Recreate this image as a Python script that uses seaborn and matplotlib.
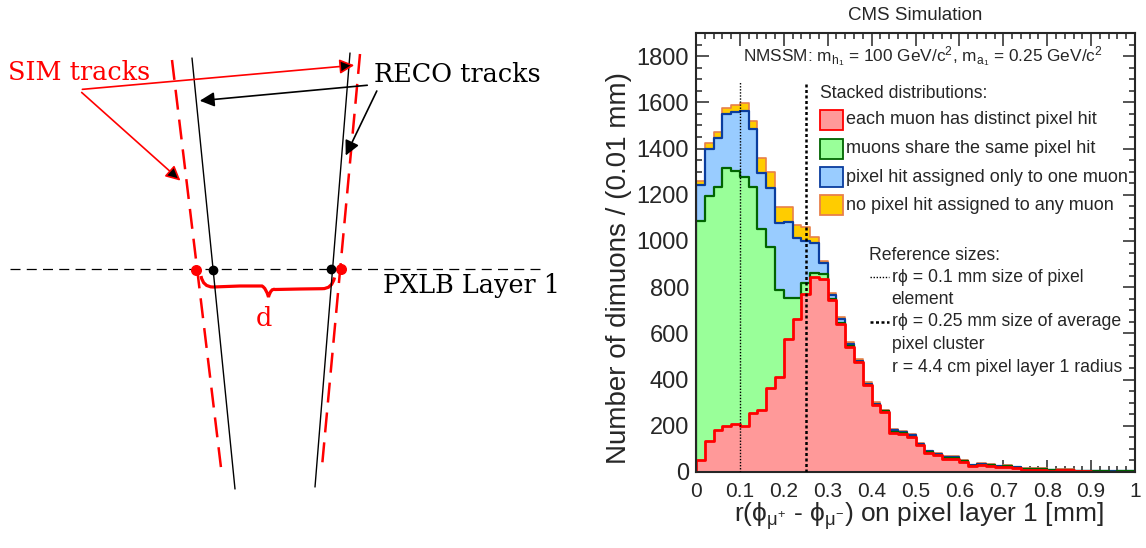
"""
Track-pair diagram + stacked dimuon separation histogram (CMS Simulation).
"""

import numpy as np
import pandas as pd
import matplotlib
matplotlib.use("Agg")
import matplotlib.pyplot as plt
import seaborn as sns
from matplotlib.patches import Rectangle, PathPatch
from matplotlib.path import Path
from matplotlib.ticker import MultipleLocator, FuncFormatter


# ----------------------------------------------------
# Data: counts per 0.02 mm bin, 0 -> 1 mm (50 bins)
# ----------------------------------------------------
bin_lo, bin_hi, bin_width = 0.0, 1.0, 0.02

distinct_hit = [52, 134, 183, 199, 208, 201, 257, 268, 362, 411,
                575, 661, 770, 845, 835, 744, 640, 540, 475, 375,
                289, 261, 170, 165, 150, 117, 84, 72, 56, 56,
                42, 26, 30, 28, 20, 20, 17, 10, 10, 10,
                6, 7, 7, 4, 4, 2, 2, 2, 2, 2]
shared_hit = [1034, 1060, 1052, 1115, 1094, 1074, 975, 782, 610, 377,
              176, 90, 49, 17, 23, 6, 6, 5, 3, 3,
              3, 1, 4, 3, 3, 2, 2, 3, 4, 4,
              4, 2, 2, 2, 2, 4, 2, 2, 2, 2,
              1, 1, 1, 1, 1, 1, 1, 0, 1, 1]
one_muon_hit = [154, 202, 209, 235, 254, 287, 252, 242, 256, 288,
                329, 260, 182, 128, 45, 16, 16, 8, 4, 5,
                4, 2, 6, 6, 5, 2, 3, 4, 4, 4,
                3, 2, 3, 2, 2, 3, 1, 2, 2, 3,
                0, 1, 1, 0, 0, 1, 0, 1, 1, 2]
no_hit = [20, 26, 26, 25, 31, 36, 33, 65, 70, 69,
          65, 58, 60, 25, 12, 9, 10, 8, 7, 5,
          6, 3, 5, 5, 5, 3, 3, 3, 4, 4,
          3, 2, 2, 1, 2, 2, 2, 2, 2, 2,
          1, 2, 2, 1, 1, 0, 1, 0, 0, 0]

category_labels = ["each muon has distinct pixel hit",
                   "muons share the same pixel hit",
                   "pixel hit assigned only to one muon",
                   "no pixel hit assigned to any muon"]
fill_colors = ["#ff9999", "#99ff99", "#99ccff", "#ffcc00"]
edge_colors = ["#ff0000", "#006400", "#0a3d9e", "#e8804a"]
edge_widths = [2.0, 1.6, 1.6, 1.2]

ref_sizes = [0.1, 0.25]
ref_top = 1690
ref_labels = ["r\u03d5 = 0.1 mm size of pixel", "element",
              "r\u03d5 = 0.25 mm size of average", "pixel cluster",
              "r = 4.4 cm pixel layer 1 radius"]

x_ticks = [0.0, 0.1, 0.2, 0.3, 0.4, 0.5, 0.6, 0.7, 0.8, 0.9, 1.0]
y_ticks = [0, 200, 400, 600, 800, 1000, 1200, 1400, 1600, 1800]

W, H = 1146, 548
AX_L, AX_R, AX_T, AX_B = 696, 1135, 33, 472


def px_x(x):
    return (x - AX_L) / (AX_R - AX_L)


def px_y(y):
    return (AX_B - y) / (AX_B - AX_T)


# ----------------------------------------------------
# Left: schematic of SIM / RECO tracks
# ----------------------------------------------------
def draw_diagram(fig):
    ax = fig.add_axes([0, 0, 573 / W, 1])
    ax.set_xlim(0, 573)
    ax.set_ylim(H, 0)
    ax.axis("off")

    serif = "DejaVu Serif"
    # reco tracks (black, solid)
    ax.plot([192, 235], [58, 489], color="black", lw=1.0)
    ax.plot([350, 315], [53, 487], color="black", lw=1.0)
    # sim tracks (red, dashed)
    ax.plot([172, 222], [60, 476], color="red", lw=1.8, ls=(0, (8, 4)))
    ax.plot([360, 321.5], [54, 472], color="red", lw=1.8, ls=(0, (8, 4)))
    # pixel layer
    ax.plot([10, 541], [269, 269], color="black", lw=0.9, ls=(0, (8, 5)))
    ax.scatter([195.5, 341], [269.5, 269], s=48, color="red", zorder=5)
    ax.scatter([213, 330.5], [269.5, 269], s=36, color="black", zorder=5)

    # brace for d
    verts = [(201, 276), (203, 287), (213, 287),
             (240, 286), (262, 286), (266, 288), (268.5, 297),
             (271, 288), (275, 289.5), (300, 289), (322, 288.7),
             (332, 289), (334.5, 277.5)]
    codes = [Path.MOVETO, Path.CURVE3, Path.CURVE3,
             Path.LINETO, Path.LINETO, Path.CURVE3, Path.CURVE3,
             Path.CURVE3, Path.CURVE3, Path.LINETO, Path.LINETO,
             Path.CURVE3, Path.CURVE3]
    ax.add_patch(PathPatch(Path(verts, codes), fill=False, ec="red", lw=2.3))

    arrow_red = dict(arrowstyle="-|>", ec="red", fc="black", lw=1.2, mutation_scale=22)
    arrow_blk = dict(arrowstyle="-|>", color="black", lw=1.2, mutation_scale=22)
    ax.annotate("", xy=(357, 65), xytext=(79.6, 89.6), arrowprops=arrow_red)
    ax.annotate("", xy=(182.5, 182.5), xytext=(79.6, 90.6), arrowprops=arrow_red)
    ax.annotate("", xy=(197, 101), xytext=(370, 85), arrowprops=arrow_blk)
    ax.annotate("", xy=(344.5, 158), xytext=(378, 88.5), arrowprops=arrow_blk)

    fs = 18.4
    ax.text(8, 72, "SIM tracks", color="red", family=serif, fontsize=fs, va="center")
    ax.text(374, 74, "RECO tracks", color="black", family=serif, fontsize=fs, va="center")
    ax.text(383, 286, "PXLB Layer 1", color="black", family=serif, fontsize=fs, va="center")
    ax.text(264, 318, "d", color="red", family=serif, fontsize=fs, ha="center", va="center")


# ----------------------------------------------------
# Right: stacked histogram
# ----------------------------------------------------
def draw_histogram(fig):
    ax = fig.add_axes([AX_L / W, (H - AX_B) / H,
                       (AX_R - AX_L) / W, (AX_B - AX_T) / H])

    n_bins = len(distinct_hit)
    centers = bin_lo + bin_width * (np.arange(n_bins) + 0.5)
    df = pd.DataFrame({"x": centers,
                       "distinct": distinct_hit, "shared": shared_hit,
                       "one": one_muon_hit, "none": no_hit})
    layers = ["distinct", "shared", "one", "none"]
    stack = df[layers].cumsum(axis=1)
    for col in layers:
        df["top_" + col] = stack[col]

    # draw from the top of the stack down so lower layers cover upper fills
    for i in reversed(range(4)):
        sns.histplot(data=df, x="x", weights="top_" + layers[i],
                     binwidth=bin_width, binrange=(bin_lo, bin_hi),
                     element="step", fill=True, alpha=1,
                     color=fill_colors[i], edgecolor=edge_colors[i],
                     linewidth=edge_widths[i], ax=ax)

    ax.vlines(ref_sizes[0], 0, ref_top, color="black", lw=1.0, ls=(0, (1, 1.2)), zorder=6)
    ax.vlines(ref_sizes[1], 0, ref_top, color="black", lw=1.8, ls=(0, (1.2, 1.0)), zorder=6)

    ax.set_xlim(bin_lo, bin_hi)
    ax.set_ylim(0, 1900)
    ax.set_xticks(x_ticks)
    ax.set_yticks(y_ticks)
    ax.xaxis.set_minor_locator(MultipleLocator(0.02))
    ax.yaxis.set_minor_locator(MultipleLocator(50))
    ax.xaxis.set_major_formatter(FuncFormatter(lambda v, p: f"{v:g}"))
    ax.tick_params(which="both", direction="in", top=True, right=True, width=1.1)
    ax.tick_params(which="major", length=9)
    ax.tick_params(which="minor", length=4.5)
    ax.tick_params(axis="y", labelsize=17, pad=5)
    ax.tick_params(axis="x", labelsize=15, pad=7)
    for s in ax.spines.values():
        s.set_linewidth(1.5)

    ax.set_ylabel("Number of dimuons / (0.01 mm)", fontsize=20)
    ax.yaxis.set_label_coords(-0.145, 0.465)
    ax.set_xlabel("r(\u03d5$_{\u03bc^{+}}$ - \u03d5$_{\u03bc^{-}}$) on pixel layer 1 [mm]",
                  fontsize=19)
    ax.xaxis.set_label_coords(0.507, -0.064)

    ax.text(px_x(743), px_y(57),
            r"NMSSM: m$_{h_{1}}$ = 100 GeV/c$^{2}$, m$_{a_{1}}$ = 0.25 GeV/c$^{2}$",
            transform=ax.transAxes, fontsize=12.4, va="center")
    ax.text(px_x(820), px_y(93), "Stacked distributions:",
            transform=ax.transAxes, fontsize=12.7, va="center")
    for i, yc in enumerate([120, 148.6, 177, 205]):
        ax.add_patch(Rectangle((px_x(820), px_y(yc + 10)), 23 / (AX_R - AX_L),
                               20 / (AX_B - AX_T), transform=ax.transAxes,
                               fc=fill_colors[i], ec=edge_colors[i], lw=1.3, zorder=7))
        ax.text(px_x(846.5), px_y(yc), category_labels[i],
                transform=ax.transAxes, fontsize=13.0, va="center")

    ax.text(px_x(869), px_y(255), "Reference sizes:",
            transform=ax.transAxes, fontsize=12.7, va="center")
    for lbl, yc in zip(ref_labels, [277, 299.5, 322, 344.5, 367]):
        ax.text(px_x(891.5), px_y(yc), lbl, transform=ax.transAxes,
                fontsize=12.7, va="center")
    ax.plot([px_x(870), px_x(889)], [px_y(277)] * 2, transform=ax.transAxes,
            color="black", lw=1.0, ls=(0, (1, 1.2)))
    ax.plot([px_x(870), px_x(889)], [px_y(322)] * 2, transform=ax.transAxes,
            color="black", lw=1.8, ls=(0, (1.2, 1.0)))

    fig.text(915 / W, 1 - 15 / H, "CMS Simulation", fontsize=13.5,
             ha="center", va="center")


def main():
    sns.set_style("ticks")
    plt.rcParams["font.family"] = ["Liberation Sans", "DejaVu Sans"]
    plt.rcParams["mathtext.default"] = "regular"

    fig = plt.figure(figsize=(W / 100, H / 100), dpi=100)
    draw_diagram(fig)
    draw_histogram(fig)
    fig.savefig("out.png", dpi=100)
    plt.close(fig)


if __name__ == "__main__":
    main()
